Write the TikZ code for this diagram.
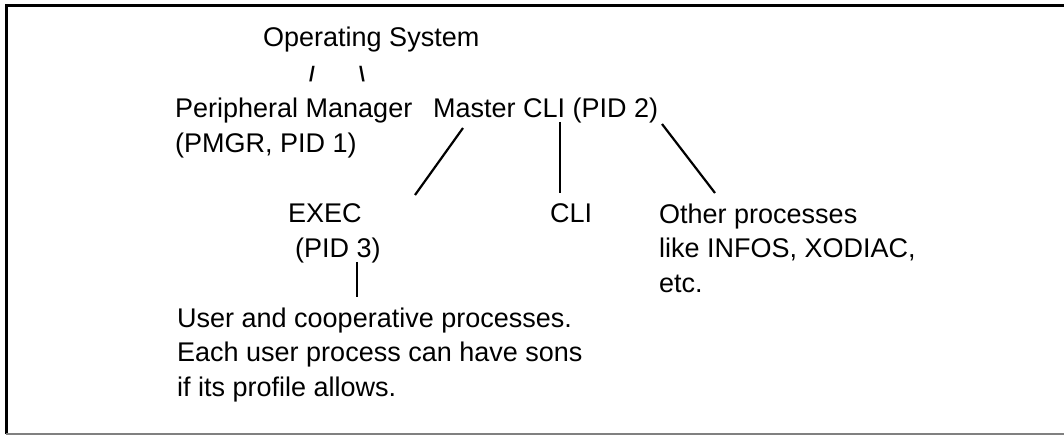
\documentclass[tikz,border=0pt]{standalone}
\usepackage{fontspec}
\setmainfont{Liberation Sans}
\begin{document}
\begin{tikzpicture}[x=1pt,y=-1pt,
  txt/.style={inner sep=0pt, anchor=base west, font=\fontsize{27}{34.5}\selectfont, align=left},
  slash/.style={inner sep=0pt, anchor=base, font=\fontsize{21}{24}\selectfont\bfseries},
  link/.style={line width=2.2pt}]
\useasboundingbox (0,0) rectangle (1064,435);
% frame
\draw[line width=3pt] (1070,6) -- (6,6) -- (6,434);
\draw[line width=1.5pt, black!50] (6,434) -- (1070,434);
% nodes (multi-line nodes are placed by the baseline of their last line)
\node[txt] (os) at (263,47) {Operating System};
\node[slash] (sl) at (312,82) {/};
\node[slash] (bs) at (362,82) {\textbackslash};
\node[txt] (pm) at (175,152.5) {Peripheral Manager\\(PMGR, PID 1)};
\node[txt] (mc) at (433,118) {Master CLI (PID 2)};
\node[txt] (ex) at (288,257.5) {EXEC\\\hspace{7pt}(PID 3)};
\node[txt] (cli) at (550,223) {CLI};
\node[txt] (op) at (659,292) {Other processes\\like INFOS, XODIAC,\\etc.};
\node[txt] (us) at (177,396) {User and cooperative processes.\\Each user process can have sons\\if its profile allows.};
% connector end points
\coordinate (m1) at (463,128);
\coordinate (e1) at (415,195);
\coordinate (m2) at (560,122);
\coordinate (c1) at (560,193);
\coordinate (m3) at (662,124);
\coordinate (o1) at (715,193);
\coordinate (x1) at (357,262);
\coordinate (u1) at (357,297);
\draw[link] (m1) -- (e1);
\draw[link] (m2) -- (c1);
\draw[link] (m3) -- (o1);
\draw[link] (x1) -- (u1);
\end{tikzpicture}
\end{document}
